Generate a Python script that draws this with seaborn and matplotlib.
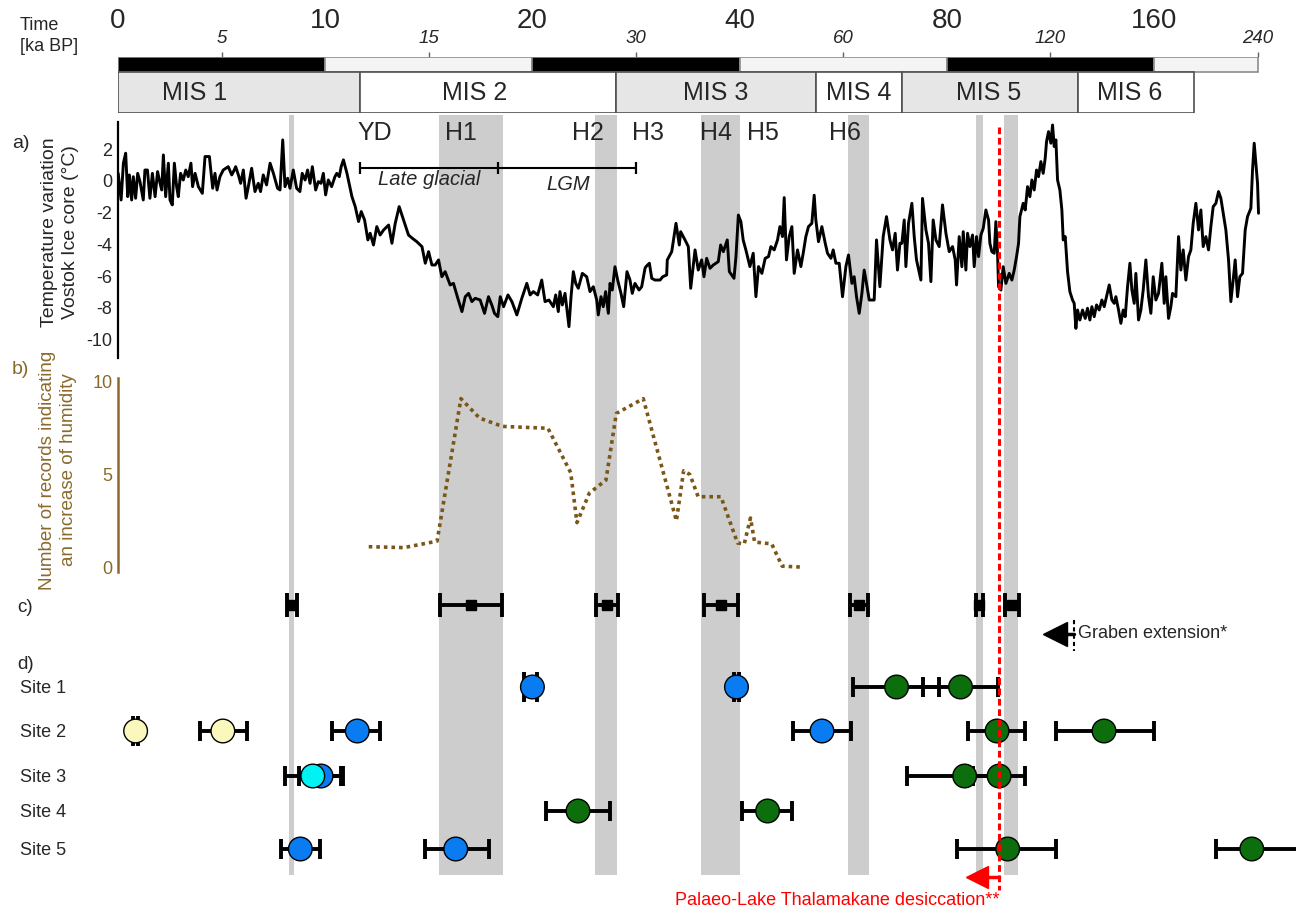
import numpy as np
import pandas as pd
import matplotlib
matplotlib.use("Agg")
import matplotlib.pyplot as plt
import seaborn as sns

W, H = 1296, 910

# ---------------------------------------------------------------- data
# Vostok ice core temperature anomaly (ka BP, °C)
vostok_holocene = [
    (0.01, 0.48), (0.15, -1.20), (0.26, 1.12), (0.37, 1.75), (0.47, -0.99), (0.55, 0.38), (0.66, -1.20), (0.74, 0.27),
    (0.85, -1.09), (0.95, 0.48), (1.06, -0.04), (1.22, -1.20), (1.30, 0.69), (1.42, 0.69), (1.54, -1.09), (1.66, 0.48),
    (1.79, -0.99), (1.91, 0.59), (2.03, -0.15), (2.11, -0.57), (2.19, 1.64), (2.30, -0.99), (2.43, 1.12), (2.51, -1.20),
    (2.62, -1.51), (2.72, 1.12), (2.83, -0.36), (2.91, -0.99), (3.02, 0.48), (3.15, 0.06), (3.27, 0.69), (3.39, 0.27),
    (3.52, 1.12), (3.60, -0.36), (3.72, 0.48), (3.88, -0.36), (4.07, -0.78), (4.20, 1.54), (4.41, 1.54), (4.57, -0.46),
    (4.68, 0.48), (4.78, -0.57), (4.92, 0.27), (5.08, 0.69), (5.32, 0.90), (5.49, 0.38), (5.61, 0.69), (5.68, 0.90),
    (5.81, 0.38), (5.92, -0.15), (6.05, 0.69), (6.18, -1.09), (6.29, -0.36), (6.45, 0.80), (6.61, -0.67), (6.77, -0.15),
    (6.88, -0.67), (7.01, 0.38), (7.17, -0.25), (7.34, 1.12), (7.50, 0.48), (7.70, -0.46), (7.82, -0.57), (7.95, 2.59),
    (8.06, -0.36), (8.19, 0.17), (8.30, -0.46), (8.46, 0.69), (8.62, -0.46), (8.78, -0.67), (8.89, 0.48), (9.03, 0.06),
    (9.15, 0.69), (9.27, -0.15), (9.38, 0.90), (9.54, -0.57), (9.67, -0.04), (9.80, -0.15), (9.91, 0.48), (10.02, -0.88),
    (10.15, 0.06), (10.31, -0.36), (10.47, 0.27),
]
vostok_glacial = [
    (10.56, 0.48), (10.68, 0.27), (10.77, 0.90), (10.88, 1.33), (11.05, 0.48), (11.29, -0.99), (11.45, -1.62),
    (11.61, -2.56), (11.74, -1.93), (11.90, -2.46), (12.06, -3.72), (12.17, -3.30), (12.33, -4.04), (12.49, -2.88),
    (12.65, -3.41), (12.82, -3.09), (13.06, -2.78), (13.22, -3.93), (13.38, -2.67), (13.57, -1.62), (13.78, -2.46),
    (14.02, -3.41), (14.21, -3.62), (14.42, -3.83), (14.67, -4.14), (14.83, -5.19), (14.99, -4.46), (15.15, -5.30),
    (15.31, -5.30), (15.47, -4.98), (15.63, -6.04), (15.79, -5.72), (16.03, -6.56), (16.19, -6.46), (16.40, -7.40),
    (16.60, -8.24), (16.76, -7.30), (16.92, -7.09), (17.08, -7.61), (17.24, -7.40), (17.48, -7.51), (17.69, -8.35),
    (17.88, -7.30), (18.04, -7.82), (18.17, -8.35), (18.33, -8.56), (18.45, -7.30), (18.61, -7.93), (18.82, -7.19),
    (19.01, -7.61), (19.25, -8.45), (19.49, -7.40), (19.73, -6.46), (19.89, -7.19), (20.09, -6.98), (20.51, -7.19),
    (20.90, -6.25), (21.22, -7.61), (21.60, -7.51), (22.02, -7.93), (22.25, -7.19), (22.50, -8.24), (22.66, -6.98),
    (22.89, -7.82), (23.15, -7.09), (23.53, -9.19), (23.73, -7.30), (23.95, -5.72), (24.18, -6.46), (24.43, -6.77),
    (24.82, -5.83), (25.24, -6.04), (25.56, -6.98), (25.88, -6.67), (26.21, -7.51), (26.36, -8.45), (26.62, -7.30),
    (26.84, -7.93), (27.07, -6.98), (27.33, -8.35), (27.49, -6.46), (27.71, -6.88), (27.97, -5.41), (28.23, -6.25),
    (28.55, -7.09), (28.81, -7.93), (29.13, -5.72), (29.42, -6.25), (29.64, -7.09), (29.90, -6.46), (30.29, -6.88),
    (30.55, -6.67), (30.87, -5.51),
]
vostok_mis3_4 = [
    (30.97, -5.40), (31.29, -5.19), (31.52, -6.14), (31.83, -6.25), (32.32, -6.25), (32.58, -6.04), (32.96, -5.93),
    (33.02, -4.98), (33.45, -4.46), (33.86, -2.67), (34.18, -4.04), (34.31, -3.20), (34.73, -3.72), (35.05, -4.14),
    (35.28, -6.77), (35.70, -4.35), (36.01, -5.62), (36.34, -4.98), (36.56, -6.04), (36.82, -4.88), (37.14, -5.51),
    (37.46, -5.30), (37.94, -5.09), (38.17, -4.04), (38.43, -4.46), (38.81, -3.72), (39.01, -5.72), (39.46, -6.14),
    (39.65, -4.77), (39.88, -2.15), (40.25, -2.57), (40.69, -3.72), (41.21, -4.35), (41.99, -5.40), (42.63, -4.56),
    (43.15, -7.30), (43.65, -5.40), (44.30, -5.83), (44.94, -4.88), (45.58, -4.77), (46.04, -4.14), (46.68, -4.35),
    (47.32, -3.72), (47.78, -2.88), (48.28, -3.51), (48.61, -1.05), (49.05, -4.98), (49.58, -3.51), (50.09, -2.88),
    (50.54, -5.83), (51.18, -4.35), (51.83, -5.40), (52.28, -4.56), (52.79, -3.51), (53.30, -2.88), (53.95, -2.67),
    (54.40, -0.90), (54.72, -2.46), (55.23, -3.83), (55.88, -2.88), (56.53, -3.93), (56.97, -4.56), (57.63, -4.88),
    (58.07, -4.35), (58.59, -5.19), (59.23, -5.19), (59.87, -7.30), (60.52, -5.40), (61.02, -4.67), (61.68, -6.46),
    (62.12, -6.04), (62.57, -7.30), (63.09, -8.35), (63.61, -7.09), (64.05, -5.62), (64.50, -6.46), (65.02, -7.51),
    (65.98, -7.51), (66.43, -3.72), (67.08, -6.67), (67.72, -3.51), (68.36, -2.25), (69.02, -3.72), (69.52, -4.35),
    (70.04, -3.30), (70.48, -5.62), (70.95, -3.93), (71.33, -3.93), (71.78, -2.46), (72.10, -5.40), (72.61, -2.67),
    (73.26, -1.41), (73.71, -3.51), (74.15, -4.98), (75.00, -6.25), (75.31, -1.10), (75.97, -3.09), (76.47, -3.93),
    (76.93, -6.35), (77.37, -2.46), (77.90, -3.72), (78.53, -4.14), (79.17, -1.51),
]
vostok_mis5_6 = [
    (79.83, -3.30), (80.93, -4.46), (82.22, -4.14), (83.25, -4.98), (83.76, -6.56), (84.79, -3.51), (85.82, -5.41),
    (86.34, -3.20), (87.37, -5.62), (88.01, -3.30), (88.91, -4.14), (89.94, -3.41), (90.58, -5.41), (91.48, -3.51),
    (92.26, -4.77), (93.16, -3.41), (94.06, -2.99), (95.09, -1.83), (96.12, -2.46), (96.63, -3.93), (97.40, -4.46),
    (98.31, -4.56), (98.95, -2.57), (99.59, -4.56), (99.98, -6.67), (100.88, -6.88), (101.78, -5.41), (102.81, -6.46),
    (104.10, -5.83), (105.13, -6.25), (106.03, -5.62), (106.93, -4.77), (107.70, -3.93), (108.22, -2.25), (109.50, -1.41),
    (110.27, -1.83), (111.18, -0.36), (112.08, -0.99), (112.85, 0.06), (113.75, -0.57), (114.65, 0.69), (115.42, 0.27),
    (116.32, 1.22), (117.22, 0.48), (117.99, 1.43), (118.51, 2.48), (119.28, 3.11), (120.18, 2.38), (120.83, 3.53),
    (121.47, 2.17), (122.12, 2.59), (122.76, 0.06), (123.66, -0.57), (124.43, -1.83), (124.95, -3.72), (125.72, -3.51),
    (126.62, -5.72), (127.52, -6.98), (128.55, -7.51), (129.19, -7.72), (129.84, -9.30), (130.48, -8.14), (131.38, -8.77),
    (132.41, -8.14), (133.44, -8.67), (134.34, -8.03), (135.24, -8.77), (136.01, -7.93), (136.92, -8.56), (137.82, -7.82),
    (138.85, -8.14), (139.88, -7.51), (140.78, -7.93), (141.68, -7.30), (142.71, -6.56), (143.74, -7.51), (144.64, -7.72),
    (145.28, -7.30), (146.31, -8.14), (147.21, -8.98), (148.11, -8.14), (148.88, -8.56), (149.79, -6.67), (150.69, -5.19),
    (151.46, -6.88), (152.36, -7.72), (153.00, -5.83), (154.03, -8.77), (154.93, -8.14), (155.83, -6.88), (156.86, -4.98),
    (157.89, -7.30), (158.79, -8.35), (159.70, -6.04), (161.44, -7.51), (163.50, -7.09), (166.07, -5.19), (167.88, -7.72),
    (169.16, -6.04), (171.22, -8.67), (173.02, -7.93), (174.31, -7.09), (176.88, -7.30), (178.94, -3.51), (180.75, -5.62),
    (182.55, -4.35), (184.61, -6.25), (186.67, -4.77), (188.47, -4.35), (190.27, -2.67), (192.33, -1.41), (194.39, -3.09),
    (196.19, -1.83), (197.99, -4.14), (200.05, -3.51), (202.11, -4.35), (203.91, -2.88), (205.71, -1.62), (207.77, -1.41),
    (209.83, -0.67), (211.63, -1.09), (213.43, -2.04), (215.49, -3.09), (217.55, -4.98), (219.35, -7.61), (221.15, -6.25),
    (222.70, -4.98), (224.50, -7.30), (226.30, -6.04), (228.36, -5.83), (230.42, -3.09), (232.22, -2.25), (234.80, -1.72),
    (236.09, 0.69), (237.37, 2.38), (238.66, 1.12), (239.95, -0.15), (240.72, -2.04),
]

# number of records indicating increased humidity
humid_age = [12.1, 13.8, 15.4, 16.55, 17.45, 18.55, 21.5, 23.7, 24.3, 25.5, 27.1, 28.1, 30.7,
             33.9, 34.6, 35.2, 36.0, 38.2, 39.8, 40.9, 42.1, 42.9, 46.2, 48.2, 51.7]
humid_count = [1.1, 1.05, 1.4, 9.1, 8.05, 7.6, 7.5, 5.1, 2.4, 4.0, 4.7, 8.3, 9.1,
               2.5, 5.2, 5.0, 3.8, 3.8, 1.3, 1.25, 2.65, 1.35, 1.25, 0.05, 0.0]

# cold events (grey bands, ka BP) and their labels
band_start = [8.25, 15.5, 26.0, 36.3, 61.0, 91.2, 101.9]
band_end = [8.50, 18.6, 28.2, 40.0, 64.9, 93.8, 107.3]
event_names = ["YD", "H1", "H2", "H3", "H4", "H5", "H6"]
event_age = [12.4, 16.55, 25.4, 31.2, 37.7, 44.6, 60.3]

# panel c: event ages with uncertainty
c_age = [8.4, 17.05, 27.2, 38.2, 63.1, 92.5, 105.0]
c_err = [0.22, 1.5, 1.1, 1.65, 1.7, 1.3, 2.7]

# marine isotope stages
mis_names = ["MIS 1", "MIS 2", "MIS 3", "MIS 4", "MIS 5", "MIS 6"]
mis_start = [0, 11.7, 28.1, 54.8, 71.4, 130.6]
mis_end = [11.7, 28.1, 54.8, 71.4, 130.6, 190.9]
mis_label_age = [3.7, 17.2, 37.7, 63.0, 96.0, 150.4]

# time scale blocks and tick labels
time_block_start = [0, 10, 20, 40, 80, 160]
time_block_end = [10, 20, 40, 80, 160, 240]
time_major = [0, 10, 20, 40, 80, 160]
time_minor = [5, 15, 30, 60, 120, 240]

# site ages (ka BP) with lower / upper uncertainty
site_names = ["Site 1", "Site 2", "Site 3", "Site 4", "Site 5"]
date_site = ["Site 1", "Site 1", "Site 1", "Site 1",
             "Site 2", "Site 2", "Site 2", "Site 2", "Site 2", "Site 2",
             "Site 3", "Site 3", "Site 3", "Site 3",
             "Site 4", "Site 4",
             "Site 5", "Site 5", "Site 5", "Site 5"]
date_age = [20.0, 39.7, 70.3, 85.3,
            0.85, 5.06, 11.55, 55.9, 99.4, 140.7,
            9.8, 9.4, 86.9, 100.2,
            24.4, 45.4,
            8.8, 16.3, 103.5, 235.5]
date_err_minus = [0.4, 0.2, 8.5, 9.8,
                  0.12, 1.08, 1.2, 5.5, 11.3, 18.6,
                  1.05, 1.35, 14.6, 10.0,
                  3.1, 4.9,
                  0.93, 1.46, 19.7, 28.0]
date_err_plus = [0.4, 0.2, 8.2, 14.6,
                 0.12, 1.17, 1.1, 5.7, 10.6, 19.2,
                 1.05, 1.35, 14.6, 10.0,
                 3.1, 4.8,
                 0.93, 1.6, 18.6, 40.0]
date_group = ["blue", "blue", "green", "green",
              "pale", "pale", "blue", "blue", "green", "green",
              "blue", "cyan", "green", "green",
              "green", "green",
              "blue", "blue", "green", "green"]

graben_age = 129.2
desiccation_age = 100.2

# ---------------------------------------------------------------- style
GROUP_COLOURS = {"pale": "#fbf8bd", "blue": "#0a7cf2", "cyan": "#00f2f2", "green": "#0c6e0c"}
BAND_GREY = "#cdcdcd"
BROWN_TEXT = "#8a6a2c"
BROWN_LINE = "#7a5718"

sns.set_theme(style="white")
plt.rcParams["font.family"] = ["Liberation Sans", "DejaVu Sans"]
plt.rcParams["axes.unicode_minus"] = False

# piecewise time axis: every doubling of age gets the same width
AGE_KNOTS = [0, 10, 20, 40, 80, 160, 320]
POS_KNOTS = [0, 1, 2, 3, 4, 5, 6]


def age_to_pos(a):
    return np.interp(np.asarray(a, dtype=float), AGE_KNOTS, POS_KNOTS)


def pos_to_age(p):
    return np.interp(np.asarray(p, dtype=float), POS_KNOTS, AGE_KNOTS)


LEFT_PX = 118
UNIT_PX = 207.2
X_MAX = float(pos_to_age((W - LEFT_PX) / UNIT_PX))

fig = plt.figure(figsize=(W / 100, H / 100), dpi=100)


def fx(px):
    return px / W


def fy(py):
    return 1 - py / H


def px_axes(top, bottom, z):
    ax = fig.add_axes([LEFT_PX / W, 1 - bottom / H, (W - LEFT_PX) / W, (bottom - top) / H])
    ax.set_xscale("function", functions=(age_to_pos, pos_to_age))
    ax.set_xlim(0, X_MAX)
    ax.set_facecolor("none")
    ax.set_zorder(z)
    for sp in ax.spines.values():
        sp.set_visible(False)
    ax.set_xticks([])
    ax.set_xlabel("")
    ax.set_ylabel("")
    return ax


# ---------------------------------------------------------------- grey event bands
ax_bg = px_axes(115, 875, 0)
for s, e in zip(band_start, band_end):
    ax_bg.axvspan(s, e, color=BAND_GREY, lw=0)
ax_bg.set_yticks([])

# ---------------------------------------------------------------- time bar and MIS boxes
ax_top = px_axes(56.5, 112.5, 1)
ax_top.set_ylim(112.5, 56.5)
block_colours = ["black" if i % 2 == 0 else "#f4f4f4" for i in range(len(time_block_start))]
ax_top.barh(64.5, np.subtract(time_block_end, time_block_start), left=time_block_start, height=15,
            color=block_colours, edgecolor="#8c8c8c", linewidth=1.2)
mis_colours = ["#e6e6e6" if i % 2 == 0 else "white" for i in range(len(mis_names))]
ax_top.barh(92.4, np.subtract(mis_end, mis_start), left=mis_start, height=40.2,
            color=mis_colours, edgecolor="#505050", linewidth=1.2)
for name, a in zip(mis_names, mis_label_age):
    ax_top.text(a, 99.5, name, ha="center", va="baseline", fontsize=18)
ax_top.set_yticks([])
ax_top.xaxis.set_ticks_position("top")
ax_top.set_xticks(time_major, labels=[str(v) for v in time_major])
ax_top.set_xticks(time_minor, labels=[str(v) for v in time_minor], minor=True)
ax_top.tick_params(axis="x", which="major", length=0, pad=16, labelsize=20, top=True, labeltop=True,
                   bottom=False, labelbottom=False)
ax_top.tick_params(axis="x", which="minor", length=3.6, width=1.0, color="#606060", pad=3,
                   labelsize=13.5, top=True, labeltop=True, bottom=False, labelbottom=False)
for t in ax_top.get_xticklabels(minor=True):
    t.set_fontstyle("italic")

fig.text(fx(20), fy(30), "Time", fontsize=13, va="baseline")
fig.text(fx(20), fy(51), "[ka BP]", fontsize=13, va="baseline")

# ---------------------------------------------------------------- a) Vostok temperature
ax_a = px_axes(115, 372, 2)
ax_a.set_ylim(-12.05, 4.16)
vostok = pd.DataFrame(vostok_holocene + vostok_glacial + vostok_mis3_4 + vostok_mis5_6, columns=["age", "temp"])
sns.lineplot(data=vostok, x="age", y="temp", ax=ax_a, color="black", lw=2.1, sort=False, estimator=None)
ax_a.set_xlabel("")
ax_a.set_ylabel("")
ax_a.set_xticks([])
ax_a.spines["left"].set_visible(True)
ax_a.spines["left"].set_color("black")
ax_a.spines["left"].set_linewidth(1.6)
ax_a.spines["left"].set_bounds(-11.17, 3.72)
ax_a.set_yticks(range(-10, 3, 2))
ax_a.tick_params(axis="y", length=0, pad=4, labelsize=13)

for name, a in zip(event_names, event_age):
    ax_a.text(a, 2.59, name, ha="center", va="baseline", fontsize=18)

bracket = [11.7, 18.35, 30.0]
ax_a.plot([bracket[0], bracket[-1]], [0.8, 0.8], color="black", lw=1.5)
ax_a.plot(bracket, [0.8] * 3, ls="none", marker="|", ms=9, mew=1.6, color="black")
ax_a.text(15.0, -0.25, "Late glacial", ha="center", va="baseline", fontsize=14.5, fontstyle="italic")
ax_a.text(23.5, -0.57, "LGM", ha="center", va="baseline", fontsize=14.5, fontstyle="italic")

fig.text(fx(60), fy(232), "Temperature variation\nVostok Ice core (°C)", rotation=90, ha="center",
         va="center", multialignment="center", fontsize=14, linespacing=1.3)
fig.text(fx(12), fy(148), "a)", fontsize=14, va="baseline")

# ---------------------------------------------------------------- b) humidity records
ax_b = px_axes(372, 580, 2)
ax_b.set_ylim(-0.70, 10.54)
sns.lineplot(x=humid_age, y=humid_count, ax=ax_b, color=BROWN_LINE, lw=2.6, linestyle=(0, (1, 1.1)),
             sort=False, estimator=None)
ax_b.set_xticks([])
ax_b.spines["left"].set_visible(True)
ax_b.spines["left"].set_color(BROWN_TEXT)
ax_b.spines["left"].set_linewidth(1.8)
ax_b.spines["left"].set_bounds(-0.27, 10.2)
ax_b.set_yticks([0, 5, 10])
ax_b.tick_params(axis="y", length=0, pad=4, labelsize=13, labelcolor=BROWN_TEXT)
fig.text(fx(58), fy(470), "Number of records indicating\nan increase of humidity", rotation=90,
         ha="center", va="center", multialignment="center", fontsize=13.5, linespacing=1.3, color=BROWN_TEXT)
fig.text(fx(12), fy(374), "b)", fontsize=14, va="baseline", color=BROWN_TEXT)

# ---------------------------------------------------------------- c) and d) ages
ax_d = px_axes(580, 910, 3)
ax_d.set_ylim(910, 580)
ROW_C = 605
ROW_GRABEN = 634
ROW_DESICC = 877
site_rows = {"Site 1": 687, "Site 2": 731, "Site 3": 776, "Site 4": 811, "Site 5": 849}

ax_d.errorbar(c_age, [ROW_C] * len(c_age), xerr=c_err, fmt="s", ms=7.5, color="black",
              elinewidth=2.8, capsize=8.6, capthick=2.8)

dates = pd.DataFrame({"site": date_site, "age": date_age, "minus": date_err_minus,
                      "plus": date_err_plus, "group": date_group})
dates["row"] = dates["site"].map(site_rows)
for _, d in dates.iterrows():
    cap = 10.5 if d["minus"] < 0.5 else 7.0
    ax_d.errorbar(d["age"], d["row"], xerr=[[d["minus"]], [d["plus"]]], fmt="none", ecolor="black",
                  elinewidth=2.8, capsize=cap, capthick=2.8, zorder=2)
sns.scatterplot(data=dates, x="age", y="row", hue="group", palette=GROUP_COLOURS, s=290,
                edgecolor="black", linewidth=1.0, legend=False, ax=ax_d, zorder=4)
ax_d.set_xlabel("")
ax_d.set_ylabel("")
ax_d.set_xticks([])
ax_d.set_yticks([site_rows[s] for s in site_names], labels=site_names)
ax_d.tick_params(axis="y", length=0, pad=(LEFT_PX - 20) * 0.72, labelsize=13)
for t in ax_d.get_yticklabels():
    t.set_horizontalalignment("left")

# graben extension marker
ax_d.plot([121.9], [ROW_GRABEN], marker="<", ms=17, color="black", ls="none")
ax_d.plot([124.5, graben_age], [ROW_GRABEN, ROW_GRABEN], color="black", lw=2.5)
ax_d.plot([graben_age, graben_age], [620, 651], color="black", lw=1.5, ls=(0, (2, 1.5)))
ax_d.text(130.8, ROW_GRABEN, "Graben extension*", ha="left", va="center", fontsize=13)

# lake desiccation marker
ax_d.plot([91.5], [ROW_DESICC], marker="<", ms=16, color="red", ls="none")
ax_d.plot([93.5, desiccation_age], [ROW_DESICC, ROW_DESICC], color="red", lw=2.5)
ax_d.text(desiccation_age + 0.2, 901, "Palaeo-Lake Thalamakane desiccation**", ha="right", va="center",
          fontsize=13, color="red")

fig.text(fx(17), fy(612), "c)", fontsize=13.5, va="baseline")
fig.text(fx(17), fy(669), "d)", fontsize=13.5, va="baseline")

# ---------------------------------------------------------------- desiccation line across panels
ax_over = px_axes(115, 910, 5)
ax_over.set_ylim(910, 115)
ax_over.set_yticks([])
ax_over.plot([desiccation_age, desiccation_age], [127, 890], color="red", lw=2.2, ls=(0, (2.2, 1.2)))

fig.savefig("out.png", dpi=100)
